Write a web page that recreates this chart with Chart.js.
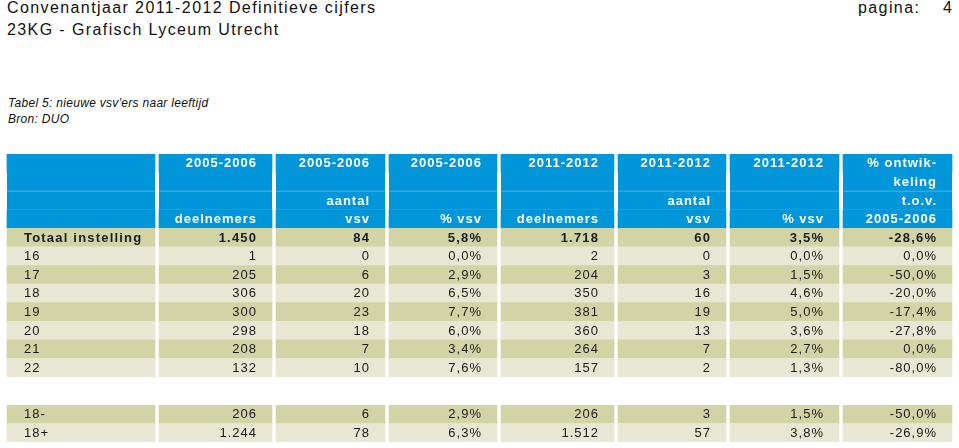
<!DOCTYPE html>
<html>
<head>
<meta charset="utf-8">
<script src="https://cdn.jsdelivr.net/npm/chart.js@4"></script>
<style>
  body { margin: 0; background: #fff; width: 959px; height: 448px; overflow: hidden; position: relative;
         font-family: "Liberation Sans", Arial, sans-serif; color: #111; }
  .t { position: absolute; white-space: nowrap; }
  .big { font-size: 16px; line-height: 16px; letter-spacing: 1.4px; }
  .small { font-size: 12px; line-height: 12px; font-style: italic; letter-spacing: 0.3px; }
  canvas { position: absolute; left: 0; }
</style>
</head>
<body>
<div class="t big" style="left:7px;top:0px">Convenantjaar 2011-2012 Definitieve cijfers</div>
<div class="t big" style="left:7px;top:21.5px">23KG - Grafisch Lyceum Utrecht</div>
<div class="t big" style="left:858px;top:0px">pagina:</div>
<div class="t big" style="left:943px;top:0px">4</div>
<div class="t small" style="left:8px;top:97px">Tabel 5: nieuwe vsv'ers naar leeftijd</div>
<div class="t small" style="left:8px;top:113px">Bron: DUO</div>

<canvas id="main" width="959" height="223" style="top:154px"></canvas>
<canvas id="bottom" width="959" height="37" style="top:405px"></canvas>

<script>
// column headers, one list per column, four lines each
const headerLines = [
    ['', '', '', ''],
    ['2005-2006', '', '', 'deelnemers'],
    ['2005-2006', '', 'aantal', 'vsv'],
    ['2005-2006', '', '', '% vsv'],
    ['2011-2012', '', '', 'deelnemers'],
    ['2011-2012', '', 'aantal', 'vsv'],
    ['2011-2012', '', '', '% vsv'],
    ['% ontwik-', 'keling', 't.o.v.', '2005-2006']
];

// main table: first row is the total
const rowLabels = ['Totaal instelling', '16', '17', '18', '19', '20', '21', '22'];
const deelnemers0506 = [1450, 1, 205, 306, 300, 298, 208, 132];
const vsv0506 = [84, 0, 6, 20, 23, 18, 7, 10];
const pctVsv0506 = [5.8, 0.0, 2.9, 6.5, 7.7, 6.0, 3.4, 7.6];
const deelnemers1112 = [1718, 2, 204, 350, 381, 360, 264, 157];
const vsv1112 = [60, 0, 3, 16, 19, 13, 7, 2];
const pctVsv1112 = [3.5, 0.0, 1.5, 4.6, 5.0, 3.6, 2.7, 1.3];
const ontwikkeling = [-28.6, 0.0, -50.0, -20.0, -17.4, -27.8, 0.0, -80.0];

// grouped rows below the table
const groupLabels = ['18-', '18+'];
const groupDeelnemers0506 = [206, 1244];
const groupVsv0506 = [6, 78];
const groupPctVsv0506 = [2.9, 6.3];
const groupDeelnemers1112 = [206, 1512];
const groupVsv1112 = [3, 57];
const groupPctVsv1112 = [1.5, 3.8];
const groupOntwikkeling = [-50.0, -26.9];

// layout (pixels)
const leftMargin = 7;
const colWidths = [148, 113, 109, 108, 113, 108, 109, 109];
const colGap = 4;
const colKinds = ['label', 'int', 'int', 'pct', 'int', 'int', 'pct', 'pct'];

const BLUE = '#0096d9';
const BLUE_LINE = '#2ea6de';
const DARK = '#d3d4a6';
const LIGHT = '#e7e7d3';

function fmtInt(n) {
    return String(n).replace(/\B(?=(\d{3})+(?!\d))/g, '.');
}
function fmtPct(n) {
    return n.toFixed(1).replace('.', ',') + '%';
}
function fmt(kind, v) {
    if (kind === 'label') return v;
    return kind === 'int' ? fmtInt(v) : fmtPct(v);
}

function buildRows(labels, series, firstIsTotal, startDark) {
    const rows = [];
    labels.forEach((label, i) => {
        const values = [label].concat(series.map(s => s[i]));
        let style = ((i % 2 === 0) === startDark) ? 'dark' : 'light';
        if (firstIsTotal && i === 0) style = 'total';
        rows.push({ style: style, cells: values.map((v, c) => fmt(colKinds[c], v)) });
    });
    return rows;
}

const mainRows = [];
for (let line = 0; line < 4; line++) {
    // faint separator under the 2nd and 3rd header line
    mainRows.push({ style: 'header', line: line === 1 || line === 2, cells: headerLines.map(col => col[line]) });
}
buildRows(rowLabels,
    [deelnemers0506, vsv0506, pctVsv0506, deelnemers1112, vsv1112, pctVsv1112, ontwikkeling],
    true, true).forEach(r => mainRows.push(r));

const bottomRows = buildRows(groupLabels,
    [groupDeelnemers0506, groupVsv0506, groupPctVsv0506, groupDeelnemers1112, groupVsv1112, groupPctVsv1112, groupOntwikkeling],
    false, true);

function rowColor(style) {
    if (style === 'header') return BLUE;
    if (style === 'light') return LIGHT;
    return DARK;
}

function makeTable(canvasId, rows) {
    const datasets = [];
    const colIndex = [];
    datasets.push({ data: rows.map(() => leftMargin), backgroundColor: 'rgba(0,0,0,0)' });
    colWidths.forEach((w, c) => {
        colIndex.push(datasets.length);
        datasets.push({
            data: rows.map(() => w),
            backgroundColor: rows.map(r => rowColor(r.style)),
            borderColor: BLUE_LINE,
            borderSkipped: false,
            borderWidth: rows.map(r => r.line ? { top: 0, right: 0, bottom: 1, left: 0 } : 0)
        });
        if (c < colWidths.length - 1) {
            datasets.push({ data: rows.map(() => colGap), backgroundColor: 'rgba(0,0,0,0)' });
        }
    });

    const cellText = {
        id: 'cellText',
        afterDatasetsDraw(chart) {
            const ctx = chart.ctx;
            ctx.save();
            ctx.textBaseline = 'middle';
            colIndex.forEach((dsIdx, c) => {
                const meta = chart.getDatasetMeta(dsIdx);
                rows.forEach((row, r) => {
                    const text = row.cells[c];
                    if (!text) return;
                    const el = meta.data[r];
                    const p = el.getProps(['x', 'y', 'base'], true);
                    const bold = row.style === 'header' || row.style === 'total';
                    const spacing = row.style === 'total' ? 1.2 : 1;
                    ctx.font = (bold ? 'bold ' : '') + '13px "Liberation Sans", Arial, sans-serif';
                    ctx.letterSpacing = spacing + 'px';
                    ctx.fillStyle = row.style === 'header' ? '#ffffff' : '#1a1a1a';
                    if (c === 0) {
                        ctx.textAlign = 'left';
                        ctx.fillText(text, Math.min(p.x, p.base) + 17, p.y + 0.5);
                    } else {
                        ctx.textAlign = 'right';
                        ctx.fillText(text, Math.max(p.x, p.base) - 16 + spacing, p.y + 0.5);
                    }
                });
            });
            ctx.restore();
        }
    };

    return new Chart(document.getElementById(canvasId), {
        type: 'bar',
        data: { labels: rows.map((r, i) => 'row' + i), datasets: datasets },
        options: {
            indexAxis: 'y',
            responsive: false,
            animation: false,
            devicePixelRatio: 1,
            layout: { padding: 0 },
            datasets: { bar: { barPercentage: 1, categoryPercentage: 1 } },
            plugins: { legend: { display: false }, tooltip: { enabled: false }, title: { display: false } },
            scales: {
                x: { type: 'linear', stacked: true, min: 0, max: 959, display: false },
                y: { stacked: true, display: false }
            }
        },
        plugins: [cellText]
    });
}

makeTable('main', mainRows);
makeTable('bottom', bottomRows);
</script>
</body>
</html>
